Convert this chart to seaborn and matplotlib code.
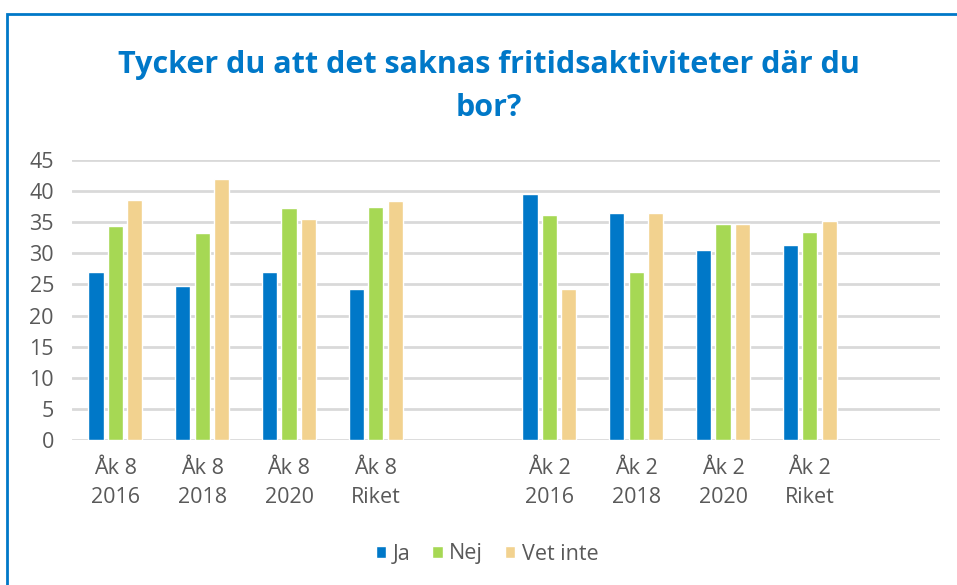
import matplotlib
matplotlib.use("Agg")
import matplotlib.pyplot as plt
import seaborn as sns
import pandas as pd
from matplotlib.patches import Rectangle, Patch

# Data
categories = ["Åk 8\n2016", "Åk 8\n2018", "Åk 8\n2020", "Åk 8\nRiket",
              "Åk 2\n2016", "Åk 2\n2018", "Åk 2\n2020", "Åk 2\nRiket"]
ja = [27.0, 24.7, 27.0, 24.2, 39.6, 36.5, 30.5, 31.3]
nej = [34.4, 33.2, 37.3, 37.5, 36.1, 27.0, 34.7, 33.4]
vet_inte = [38.6, 41.9, 35.5, 38.4, 24.2, 36.5, 34.7, 35.2]
answers = ["Ja", "Nej", "Vet inte"]
colors = ["#0078C8", "#A6D854", "#F2D28F"]

# empty slots between the two groups and after the last one
order = categories[:4] + [" "] + categories[4:] + ["  "]

rows = []
for ans, vals in zip(answers, [ja, nej, vet_inte]):
    for cat, v in zip(categories, vals):
        rows.append({"kategori": cat, "svar": ans, "andel": v})
df = pd.DataFrame(rows)

sns.set_style("white")
plt.rcParams["font.family"] = ["Open Sans", "DejaVu Sans"]
grey = "#595959"

fig = plt.figure(figsize=(9.57, 5.85), dpi=100)
ax = fig.add_axes([72 / 957, 1 - 440 / 585, (940 - 72) / 957, 280 / 585])

sns.barplot(data=df, x="kategori", y="andel", hue="svar", order=order,
            hue_order=answers, palette=colors, width=0.67, gap=0.22,
            saturation=1, ax=ax)
ax.get_legend().remove()

ax.set_ylim(0, 45)
ax.set_xlim(-0.5, len(order) - 0.5)
ax.set_yticks(range(0, 46, 5))
ax.yaxis.grid(True, color="#D9D9D9", linewidth=2)
ax.set_axisbelow(True)
for s in ax.spines.values():
    s.set_visible(False)
ax.set_xlabel("")
ax.set_ylabel("")
ax.tick_params(axis="both", length=0, labelsize=15.5, colors=grey)
ax.tick_params(axis="y", pad=13)
ax.tick_params(axis="x", pad=13)
for lbl in ax.get_xticklabels():
    lbl.set_linespacing(1.5)

fig.text(489 / 957, 1 - 65 / 585, "Tycker du att det saknas fritidsaktiviteter där du",
         ha="center", va="center", fontsize=22, fontweight="bold", color="#0078C8")
fig.text(489 / 957, 1 - 108 / 585, "bor?",
         ha="center", va="center", fontsize=22, fontweight="bold", color="#0078C8")

handles = [Patch(facecolor=c, label=a) for a, c in zip(answers, colors)]
fig.legend(handles=handles, loc="center", bbox_to_anchor=(487 / 957, 1 - 554 / 585),
           ncol=3, frameon=False, fontsize=15.5, labelcolor=grey,
           handlelength=0.5, handleheight=0.5, handletextpad=0.3, columnspacing=1.0)

# blue chart border (cropped at right and bottom)
fig.patches.append(Rectangle((7 / 957, -0.1), 1.2, 1.1 - 14 / 585,
                             transform=fig.transFigure, fill=False,
                             edgecolor="#0078C8", linewidth=2))

fig.savefig("out.png", dpi=100)
